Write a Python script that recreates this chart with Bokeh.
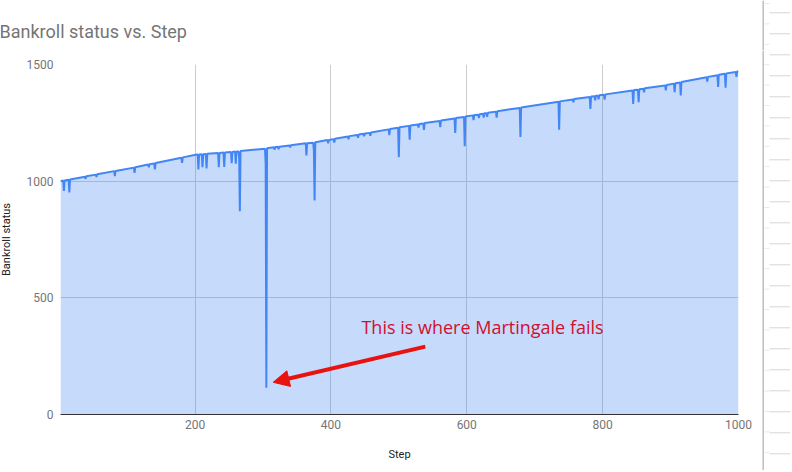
from bokeh.plotting import figure
from bokeh.models import Range1d, FixedTicker, Label, Arrow, NormalHead, ColumnDataSource
from bokeh.layouts import row, column
from bokeh.core.properties import value
from bokeh.embed import file_html
from bokeh.resources import INLINE
import math

# ---------------- data ----------------
steps = [2,
         6, 7, 8, 14, 15, 16, 38, 39, 40, 54, 55, 56, 81, 82, 83,
         110, 111, 112, 131, 132, 133, 140, 141, 142, 180, 181, 182,
         201, 204, 205, 206, 210, 211, 212, 216, 217, 218,
         234, 235, 236, 242, 243, 244, 253, 254, 255, 259, 260, 261,
         264, 265, 266, 267, 303, 304, 305, 306,
         316, 317, 318, 322, 323, 324, 339, 340, 341, 363, 364, 365,
         374, 375, 376, 377, 395, 396, 397, 404, 405, 406,
         425, 426, 427, 439, 440, 441, 448, 449, 450, 457, 458, 459,
         485, 486, 487, 499, 500, 501, 515, 516, 517, 528, 529, 530,
         536, 537, 538, 560, 561, 562, 582, 583, 584, 596, 597, 598,
         609, 610, 611, 617, 618, 619, 624, 625, 626, 629, 630, 631,
         643, 644, 645, 678, 679, 680, 735, 736, 737, 756, 757, 758,
         781, 782, 783, 788, 789, 790, 793, 794, 795, 802, 803, 804,
         844, 845, 846, 852, 853, 854, 860, 861, 862, 892, 893, 894,
         905, 906, 907, 914, 915, 916, 953, 954, 955, 969, 970, 971,
         980, 981, 982, 996, 997, 998, 1000]
bankroll = [1000,
            1003, 958, 1003, 1006, 952, 1007, 1019, 1010, 1021, 1028, 1018, 1030, 1043, 1022, 1044,
            1058, 1036, 1060, 1071, 1060, 1073, 1076, 1050, 1078, 1100, 1078, 1102,
            1113, 1114, 1050, 1114, 1115, 1060, 1115, 1116, 1054, 1117,
            1121, 1060, 1121, 1123, 1061, 1123, 1125, 1077, 1125, 1127, 1075, 1127,
            1127, 1100, 871, 1129, 1139, 1076, 115, 1141,
            1145, 1135, 1146, 1147, 1137, 1148, 1153, 1145, 1154, 1162, 1110, 1163,
            1165, 1130, 917, 1167, 1176, 1162, 1177, 1180, 1165, 1182,
            1191, 1180, 1193, 1198, 1186, 1200, 1203, 1192, 1204, 1207, 1194, 1209,
            1222, 1197, 1224, 1229, 1103, 1231, 1237, 1178, 1239, 1243, 1230, 1245,
            1247, 1220, 1249, 1258, 1232, 1260, 1269, 1207, 1271, 1275, 1150, 1277,
            1282, 1262, 1284, 1285, 1271, 1287, 1289, 1273, 1291, 1291, 1276, 1293,
            1298, 1272, 1300, 1314, 1189, 1316, 1340, 1220, 1342, 1350, 1338, 1352,
            1361, 1310, 1363, 1364, 1346, 1366, 1366, 1351, 1368, 1370, 1349, 1372,
            1389, 1331, 1391, 1392, 1338, 1394, 1396, 1381, 1398, 1410, 1389, 1412,
            1418, 1381, 1420, 1423, 1367, 1425, 1445, 1427, 1447, 1454, 1404, 1456,
            1460, 1401, 1462, 1468, 1447, 1470, 1471]

x_ticks = [200, 400, 600, 800, 1000]
y_ticks = [0, 500, 1000, 1500]

title_text = "Bankroll status vs. Step"
x_label = "Step"
y_label = "Bankroll status"

note_text = "This is where Martingale fails"
note_pos = (445, 377)
arrow_from = (539, 291)
arrow_to = (315, 138)

# ---------------- styles ----------------
BLUE = "#4285f4"
RED_TEXT = "#d0102e"
RED_ARROW = "#e8120f"
GRID = "#cccccc"
TICK_TXT = "#757575"

# decorative spreadsheet edge (page pixel coordinates)
EDGE_X = 762.7
ROW_LINES = [12.3 + 21.0 * k for k in range(23)]
SMALL_MARKS = [3 + 20.4 * k for k in range(24)]


def bare(fig):
    fig.axis.visible = False
    fig.grid.visible = False
    fig.outline_line_color = None
    fig.min_border = 0
    fig.min_border_left = 0
    fig.min_border_right = 0
    fig.min_border_top = 0
    fig.min_border_bottom = 0
    return fig


def edge(fig, y0, y1):
    fig.segment(x0=[EDGE_X], y0=[y0], x1=[EDGE_X], y1=[y1], line_color="#bdbdbd", line_width=1.5)
    rl = [y for y in ROW_LINES if y0 <= y <= y1]
    fig.segment(x0=[769] * len(rl), y0=rl, x1=[790] * len(rl), y1=rl,
                line_color="#d6d6d6", line_width=1)
    sm = [y for y in SMALL_MARKS if y0 <= y <= y1]
    fig.segment(x0=[764] * len(sm), y0=sm, x1=[769] * len(sm), y1=sm,
                line_color="#e8e8e8", line_width=1)


# ---------------- title band (page coords 0..790 x 0..50) ----------------
head = bare(figure(width=790, height=50, output_backend="svg", toolbar_location=None,
                   x_range=Range1d(0, 790), y_range=Range1d(50, 0)))
head.text(x=[-1], y=[31], text=[title_text], text_font=value("Roboto"),
          text_font_size="18px", text_color="#757575", text_baseline="middle", text_align="left")
edge(head, 0, 50)

# ---------------- y-axis title column (page x 0..12, y 50..470) ----------------
left = bare(figure(width=12, height=420, output_backend="svg", toolbar_location=None,
                   x_range=Range1d(0, 12), y_range=Range1d(470, 50)))
left.text(x=[5.5], y=[239], text=[y_label], angle=math.pi / 2, text_font=value("Roboto"),
          text_font_size="11px", text_color="#222222", text_baseline="middle", text_align="center")

# ---------------- main chart (page x 12..758, y 50..470) ----------------
src = ColumnDataSource(dict(step=steps, bankroll=bankroll))

p = figure(width=746, height=420, output_backend="svg", toolbar_location=None,
           x_range=Range1d(2, 1000), y_range=Range1d(0, 1500),
           min_border_left=48, min_border_right=20, min_border_top=14, min_border_bottom=56)
p.outline_line_color = None
p.background_fill_color = "white"
p.border_fill_color = "white"

p.varea(x="step", y1=0, y2="bankroll", source=src, fill_color=BLUE, fill_alpha=0.3)
p.line(x="step", y="bankroll", source=src, line_color=BLUE, line_width=2)

p.xaxis.ticker = FixedTicker(ticks=x_ticks)
p.yaxis.ticker = FixedTicker(ticks=y_ticks)
p.xgrid.ticker = FixedTicker(ticks=x_ticks[:-1])
p.ygrid.ticker = FixedTicker(ticks=y_ticks[1:])
for g in (p.xgrid, p.ygrid):
    g.grid_line_color = GRID
    g.grid_line_width = 1

for ax in (p.xaxis, p.yaxis):
    ax.major_tick_line_color = None
    ax.minor_tick_line_color = None
    ax.major_tick_out = 0
    ax.major_label_text_font = "Roboto"
    ax.major_label_text_font_size = "12px"
    ax.major_label_text_color = TICK_TXT
    ax.axis_label_text_font = "Roboto"
    ax.axis_label_text_font_size = "11px"
    ax.axis_label_text_font_style = "normal"
    ax.axis_label_text_color = "#222222"

p.xaxis.axis_label = x_label
p.xaxis.axis_line_color = "#333333"
p.xaxis.axis_line_width = 1
p.yaxis.axis_line_color = None
p.xaxis.major_label_standoff = 5
p.yaxis.major_label_standoff = 7
p.xaxis.axis_label_standoff = 16

p.add_layout(Label(x=note_pos[0], y=note_pos[1], text=note_text, text_font="Open Sans",
                   text_font_size="18px", text_color=RED_TEXT, text_baseline="middle"))
p.add_layout(Arrow(end=NormalHead(size=16, fill_color=RED_ARROW, line_color=RED_ARROW),
                   x_start=arrow_from[0], y_start=arrow_from[1],
                   x_end=arrow_to[0], y_end=arrow_to[1],
                   line_color=RED_ARROW, line_width=4))

# ---------------- right edge column (page x 758..790, y 50..470) ----------------
strip = bare(figure(width=32, height=420, output_backend="svg", toolbar_location=None,
                    x_range=Range1d(758, 790), y_range=Range1d(470, 50)))
edge(strip, 50, 470)

layout = column(row(head), row(column(left), p, column(strip)))
open("out.html", "w").write(file_html(layout, INLINE))
